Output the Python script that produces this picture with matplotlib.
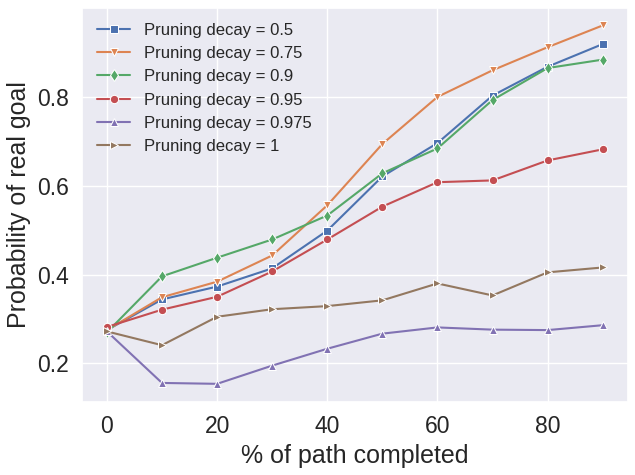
import matplotlib
matplotlib.use("Agg")
import matplotlib.pyplot as plt
import seaborn as sns

# % of path completed
path_pct = [0, 10, 20, 30, 40, 50, 60, 70, 80, 90]

decay_labels = ["0.5", "0.75", "0.9", "0.95", "0.975", "1"]

prob_05 = [0.275, 0.344, 0.373, 0.414, 0.499, 0.621, 0.696, 0.803, 0.868, 0.919]
prob_075 = [0.275, 0.349, 0.384, 0.443, 0.556, 0.694, 0.800, 0.860, 0.912, 0.961]
prob_09 = [0.270, 0.396, 0.438, 0.479, 0.533, 0.628, 0.684, 0.793, 0.865, 0.884]
prob_095 = [0.282, 0.321, 0.350, 0.407, 0.479, 0.553, 0.608, 0.612, 0.657, 0.682]
prob_0975 = [0.272, 0.156, 0.154, 0.195, 0.233, 0.267, 0.281, 0.276, 0.275, 0.286]
prob_1 = [0.272, 0.241, 0.305, 0.322, 0.329, 0.342, 0.380, 0.353, 0.405, 0.416]

series = [prob_05, prob_075, prob_09, prob_095, prob_0975, prob_1]
markers = ["s", "v", "d", "o", "^", ">"]

sns.set_theme(style="darkgrid", font_scale=1.5)
plt.rcParams['font.family'] = ['Liberation Sans', 'DejaVu Sans']
colors = sns.color_palette("deep")

fig, ax = plt.subplots(figsize=(6.35, 4.75), dpi=100)
for i, (vals, lab) in enumerate(zip(series, decay_labels)):
    ax.plot(path_pct, vals, marker=markers[i], color=colors[i], lw=1.5,
            markersize=6, markeredgecolor="white", markeredgewidth=0.75,
            label=f"Pruning decay = {lab}")

ax.set_xlabel("% of path completed")
ax.set_ylabel("Probability of real goal")
ax.set_yticks([0.2, 0.4, 0.6, 0.8])
ax.legend(fontsize=12, frameon=False, loc="upper left")
plt.tight_layout(pad=0.3)
plt.savefig("out.png")
